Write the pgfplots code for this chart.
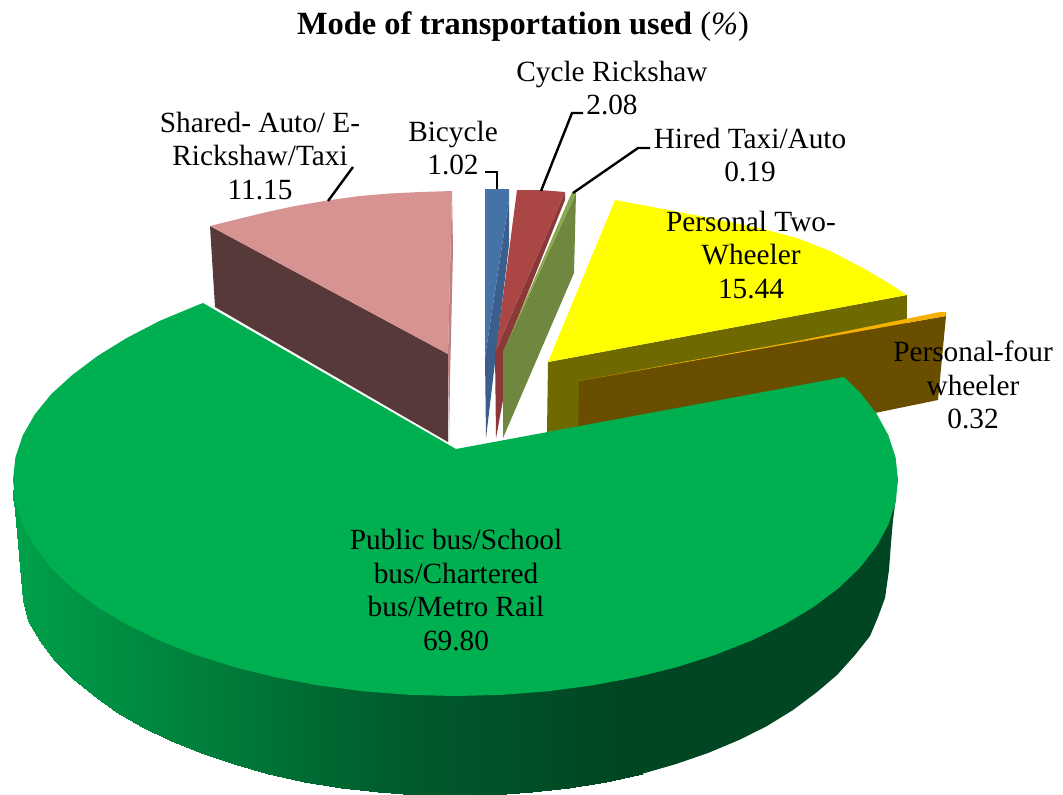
\documentclass[border=0pt]{standalone}
\usepackage{pgfplots}
\pgfplotsset{compat=1.18}
\usepgfplotslibrary{patchplots}
\usepackage{fontspec}
\setmainfont{Liberation Serif}
\pgfplotstableread{
x y g
13 500 160
17 500 160
17 533 160
13 490 160
17 500 160
20 500 159
20 567 159
17 533 160
20 500 159
23 500 159
23 600 159
20 567 159
23 500 159
28 500 158
28 621 158
23 600 159
28 500 158
40 500 156
40 641 156
28 621 158
40 500 156
54 500 153
54 660 153
40 641 156
54 500 153
72 500 150
72 678 150
54 660 153
72 500 150
93 500 146
93 695 146
72 678 150
93 500 146
116 500 142
116 712 142
93 695 146
116 500 142
142 500 137
142 727 137
116 712 142
142 500 137
171 500 132
171 741 132
142 727 137
171 500 132
201 500 128
201 753 128
171 741 132
201 500 128
234 500 121
234 764 121
201 753 128
234 500 121
268 500 115
268 774 115
234 764 121
268 500 115
304 500 108
304 782 108
268 774 115
304 500 108
341 500 101
341 788 101
304 782 108
341 500 101
378 500 95
378 792 95
341 788 101
378 500 95
416 500 90
416 795 90
378 792 95
416 500 90
455 500 86
455 796 86
416 795 90
455 500 86
493 500 82
493 795 82
455 796 86
493 500 82
532 500 79
532 792 79
493 795 82
532 500 79
569 500 74
569 788 74
532 792 79
569 500 74
606 500 71
606 782 71
569 788 74
606 500 71
642 500 68
642 774 68
606 782 71
}\rimtable
\newcommand\face[2]{\addplot[draw=none,fill={rgb,255:red,#1}] coordinates {#2} --cycle;}
\tikzset{lab/.style={font=\fontsize{14.65}{16.75}\selectfont,align=center,text=black,inner sep=0pt}}
\begin{document}
\begin{tikzpicture}
\useasboundingbox (0,0) rectangle (531.5pt,397pt);
\begin{axis}[
  at={(0,0)},anchor=south west,
  scale only axis,width=531.5pt,height=397pt,
  xmin=0,xmax=1063,ymin=0,ymax=794,y dir=reverse,hide axis,clip=true,
  every axis title shift=0pt,
  colormap={rim}{rgb255(0pt)=(0,68,34); rgb255(1pt)=(0,160,74)},
  point meta min=68,point meta max=160,
  title={\fontsize{16.2}{18}\selectfont\textbf{Mode of transportation used }(\textit{\%})},
  title style={at={(0.492,0.966)},anchor=center,inner sep=0pt},
]
% Shared auto slice
\face{88;green,57;blue,58}{(210,226)(215,307)(448,442)(448,354)}
\face{190;green,128;blue,128}{(452,191)(453,250)(450,380)(449,442)(448,354)}
\face{215;green,146;blue,146}{(452,191)(420,192)(390,193.5)(360,196)(327,200.5)(295,206)(267,212)(238,219)(210,226)(448,354)}
% Bicycle slice
\face{58;green,95;blue,140}{(509,200)(509,245)(486,438)(485,357)}
\face{69;green,114;blue,167}{(485,189)(509,189)(509,200)(485,357)}
% Cycle rickshaw slice
\face{140;green,56;blue,56}{(496,350)(565,192)(565,200)(503,355)(503,400)(496,438)(495,352)}
\face{170;green,70;blue,68}{(517,190)(540,190)(565,192)(496,350)}
% Hired taxi slice
\face{111;green,135;blue,63}{(576,193)(574,273)(503,438)(503,352)}
\face{137;green,168;blue,77}{(572,192)(576,193)(503,352)}
% Personal two-wheeler slice
\face{110;green,105;blue,0}{(548,362)(907,295)(906,400)(547,432)}
\face{255;green,255;blue,0}{(615,200)(663,209)(700,216)(730,222)(763,229)(797,238)(830,251)(863,268)(885,281)(907,295)(548,362)}
% Personal four-wheeler slice
\face{106;green,78;blue,0}{(579,381)(946,316)(938,400)(870,414)(578,440)}
\face{245;green,176;blue,0}{(579,381)(800,340.5)(940,312)(946,312)(946,316)}
% Green rim
\addplot[patch,patch type=rectangle,shader=interp,point meta=explicit] table[x=x,y=y,meta=g] {\rimtable};
\face{0;green,70;blue,35}{(641.5,500)(896,500)(896,497)(893,520)(891,543)(889,570)(885,598)(878,617)(870,636)(855,655)(837,675)(817,692)(793,710)(767,726)(739,740)(708,753)(676,764)(641.5,774)}
% Green top
\face{0;green,176;blue,80}{(456,449)(844,377)(859.7,392.1)(876.3,413.3)(888.3,435.1)(895.6,457.4)(898,480)(895.6,502.6)(888.3,524.9)(876.3,546.7)(859.7,567.9)(838.7,588)(813.5,607)(784.3,624.5)(751.6,640.5)(715.6,654.7)(676.8,667.1)(635.5,677.3)(592.2,685.4)(547.5,691.3)(501.7,694.8)(455.5,696)(409.3,694.8)(363.5,691.3)(318.8,685.4)(275.5,677.3)(234.3,667.1)(195.4,654.7)(159.4,640.5)(126.7,624.5)(97.5,607)(72.3,588)(51.3,567.9)(34.7,546.7)(22.7,524.9)(15.4,502.6)(13,480)(15.4,457.4)(22.7,435.5)(34.7,414.5)(51.3,394)(72.3,375)(97.5,356)(126.7,338)(159.4,321)(195.4,306)(203,303)}
% Leader lines
\addplot[black,line width=1.2pt] coordinates {(485,172)(497,172)(497,189)};
\addplot[black,line width=1.2pt] coordinates {(583,113)(572,113)(541,191)};
\addplot[black,line width=1.2pt] coordinates {(650,148)(638,148)(573,193)};
\addplot[black,line width=1.2pt] coordinates {(353,167)(328,201)};
% Labels
\node[lab] at (axis cs:612,88) {Cycle Rickshaw\\2.08};
\node[lab] at (axis cs:453,148) {Bicycle\\1.02};
\node[lab] at (axis cs:750,155) {Hired Taxi/Auto\\0.19};
\node[lab] at (axis cs:751,255) {Personal Two-\\Wheeler\\15.44};
\node[lab] at (axis cs:973,385) {Personal-four\\wheeler\\0.32};
\node[lab] at (axis cs:260,156) {Shared- Auto/ E-\\Rickshaw/Taxi\\11.15};
\node[lab] at (axis cs:456,590) {Public bus/School\\bus/Chartered\\bus/Metro Rail\\69.80};
\end{axis}
\end{tikzpicture}
\end{document}
